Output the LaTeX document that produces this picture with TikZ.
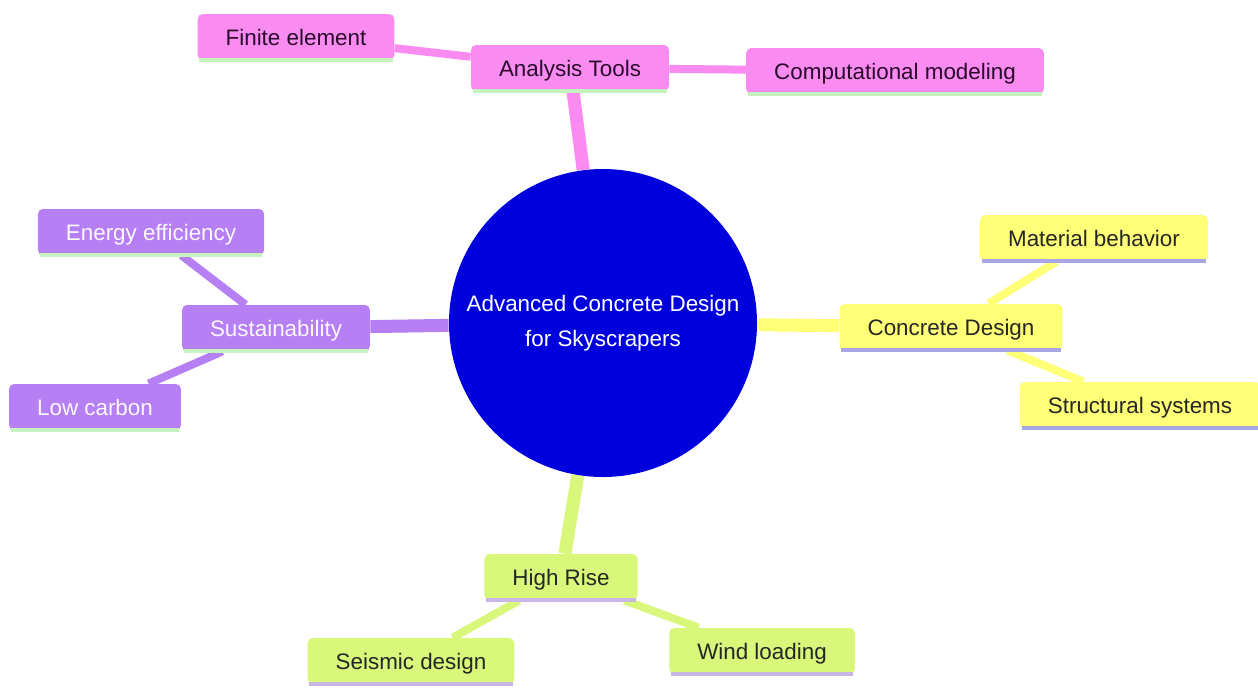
\documentclass[tikz,border=0pt]{standalone}
\usepackage{fontspec}
\setmainfont{Liberation Sans}
\usetikzlibrary{backgrounds}
\definecolor{cpink}{HTML}{F98BF1}
\definecolor{cpurple}{HTML}{B67FF3}
\definecolor{cyellow}{HTML}{FFFF78}
\definecolor{cgreen}{HTML}{D9F77B}
\definecolor{cblue}{HTML}{0000DC}
\definecolor{ulgreen}{HTML}{C6F2C0}
\definecolor{ulblue}{HTML}{A8A6E6}
\definecolor{ullav}{HTML}{C7B6E6}
\definecolor{txtdark}{HTML}{2A0A2A}
\tikzset{
  box/.style={rounded corners=2.5pt, inner xsep=14pt, minimum height=23pt,
    font=\fontsize{11.2}{13}\selectfont, text depth=0pt},
  pinkbox/.style={box, fill=cpink, text=txtdark},
  purplebox/.style={box, fill=cpurple, text=white!95!cpurple},
  yellowbox/.style={box, fill=cyellow, text=black!85},
  greenbox/.style={box, fill=cgreen, text=black!85},
  ul/.style={line width=2pt, shorten <=1pt, shorten >=1pt},
  mainedge/.style={line width=6.5pt},
  subedge/.style={line width=4pt},
}
\begin{document}
\begin{tikzpicture}[x=0.5pt,y=-0.5pt]
\useasboundingbox (0,0) rectangle (1258,693);

\node[circle, fill=cblue, minimum size=154pt, inner sep=0pt, text=white,
  align=center, font=\fontsize{11.2}{17.5}\selectfont] (root) at (603,323)
  {Advanced Concrete Design\\for Skyscrapers};

\node[pinkbox] (at) at (570,68) {Analysis Tools};
\node[pinkbox] (fe) at (296,37) {Finite element};
\node[pinkbox] (cm) at (895,71) {Computational modeling};

\node[purplebox] (su) at (276,328) {Sustainability};
\node[purplebox] (ee) at (151,232) {Energy efficiency};
\node[purplebox] (lc) at (95,407) {Low carbon};

\node[yellowbox] (cd) at (951,327) {Concrete Design};
\node[yellowbox] (mb) at (1094,238) {Material behavior};
\node[yellowbox] (ss) at (1140,405) {Structural systems};

\node[greenbox] (hr) at (561,577) {High Rise};
\node[greenbox] (sd) at (411,661) {Seismic design};
\node[greenbox] (wl) at (762,651) {Wind loading};

\begin{scope}[on background layer]
\fill[white] (0,0) rectangle (1258,693);
\draw[mainedge, cpink] (root) -- (at);
\draw[subedge, cpink] (at) -- (fe);
\draw[subedge, cpink] (at) -- (cm);
\draw[mainedge, cpurple] (root) -- (su);
\draw[subedge, cpurple] (su) -- (ee);
\draw[subedge, cpurple] (su) -- (lc);
\draw[mainedge, cyellow] (root) -- (cd);
\draw[subedge, cyellow] (cd) -- (mb);
\draw[subedge, cyellow] (cd) -- (ss);
\draw[mainedge, cgreen] (root) -- (hr);
\draw[subedge, cgreen] (hr) -- (sd);
\draw[subedge, cgreen] (hr) -- (wl);
\end{scope}

\foreach \n in {at,fe,cm,su,ee,lc}
  \draw[ul, ulgreen] (\n.south west) -- (\n.south east);
\foreach \n in {cd,mb,ss}
  \draw[ul, ulblue] (\n.south west) -- (\n.south east);
\foreach \n in {hr,sd,wl}
  \draw[ul, ullav] (\n.south west) -- (\n.south east);
\end{tikzpicture}
\end{document}
